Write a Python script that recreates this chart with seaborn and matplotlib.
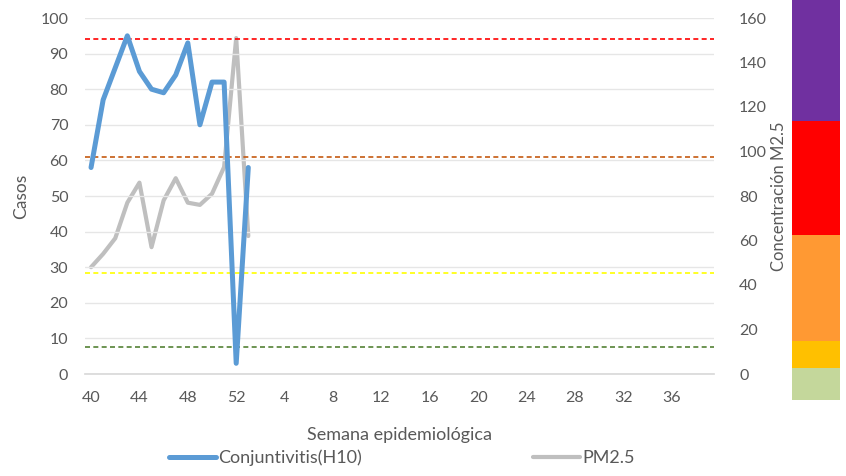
import numpy as np
import pandas as pd
import seaborn as sns
import matplotlib.pyplot as plt
from matplotlib.lines import Line2D

# semanas epidemiologicas (eje categorico)
weeks = list(range(40, 53)) + list(range(1, 40))
tick_every = 4

# casos de conjuntivitis (eje izquierdo)
conj = [58, 77, 86, 95, 85, 80, 79, 84, 93, 70, 82, 82, 3, 58]
# concentracion PM2.5 (eje derecho)
pm25 = [48, 54, 61, 77, 86, 57, 78, 88, 77, 76, 81, 93, 151, 62]

# umbrales (eje derecho)
thresholds = [12, 45.5, 97.5, 150.5]
threshold_colors = ['#548235', '#FFFF00', '#C55A11', '#FF0000']

# bandas de color de la escala de la derecha
band_bottoms = [-11.7, 2.7, 15, 62.5, 114]
band_tops = [2.7, 15, 62.5, 114, 168.3]
band_colors = ['#C4D79B', '#FFC000', '#FF9933', '#FF0000', '#7030A0']

sns.set_theme(style='white')
plt.rcParams['font.family'] = ['Lato', 'DejaVu Sans']
txt = '#595959'

df = pd.DataFrame({'idx': np.arange(len(conj)), 'conj': conj, 'pm25': pm25})

fig = plt.figure(figsize=(8.46, 4.76), dpi=100)
W, H = 846, 476
ax = fig.add_axes([85 / W, 1 - 374 / H, (714 - 85) / W, (374 - 18) / H])
ax2 = ax.twinx()

sns.lineplot(data=df, x='idx', y='pm25', ax=ax2, color='#BFBFBF', linewidth=3.0)
for v, c in zip(thresholds, threshold_colors):
    ax2.axhline(v, color=c, linestyle=(0, (3, 2)), linewidth=1.2)
sns.lineplot(data=df, x='idx', y='conj', ax=ax, color='#5B9BD5', linewidth=3.6)
ax.set_zorder(ax2.get_zorder() + 1)
ax.patch.set_visible(False)

ax.set_xlim(-0.5, len(weeks) - 0.5)
ax.set_ylim(0, 100)
ax2.set_ylim(0, 160)
ax.set_yticks(np.arange(0, 101, 10))
ax2.set_yticks(np.arange(0, 161, 20))
pos = np.arange(0, len(weeks), tick_every)
ax.set_xticks(pos)
ax.set_xticklabels([str(weeks[i]) for i in pos])

ax2.yaxis.grid(False)
ax.yaxis.grid(True, color='#E6E6E6', linewidth=1)
ax.set_axisbelow(True)
for a in (ax, ax2):
    for s in a.spines.values():
        s.set_visible(False)
ax.spines['bottom'].set_visible(True)
ax.spines['bottom'].set_color('#D9D9D9')

ax.tick_params(axis='both', length=0, labelsize=11.5, labelcolor=txt)
ax.tick_params(axis='y', pad=12)
ax.tick_params(axis='x', pad=12)
ax2.tick_params(axis='y', length=0, labelsize=11.5, labelcolor=txt, pad=18)

ax.set_xlabel('Semana epidemiológica', fontsize=13, color=txt, labelpad=16)
ax.set_ylabel('Casos', fontsize=12.5, color=txt, labelpad=8)
ax2.set_ylabel('Concentración M2.5', fontsize=12, color=txt, labelpad=3)

# escala de colores a la derecha
axb = fig.add_axes([792 / W, 1 - 400 / H, 48 / W, 400 / H])
for b, t, c in zip(band_bottoms, band_tops, band_colors):
    axb.bar(0, t - b, bottom=b, color=c, width=1.0, linewidth=0)
axb.set_xlim(-0.5, 0.5)
axb.set_ylim(band_bottoms[0], band_tops[-1])
axb.axis('off')

handles = [Line2D([], [], color='#5B9BD5', linewidth=3.6),
           Line2D([], [], color='#BFBFBF', linewidth=3.0)]
leg = fig.legend(handles, ['Conjuntivitis(H10)', 'PM2.5'], loc='center',
                 bbox_to_anchor=(402 / W, 1 - 458 / H), ncol=2, frameon=False,
                 fontsize=13, handlelength=2.6, handletextpad=0.1,
                 columnspacing=9.5)
for t in leg.get_texts():
    t.set_color(txt)

fig.savefig('out.png', dpi=100)
